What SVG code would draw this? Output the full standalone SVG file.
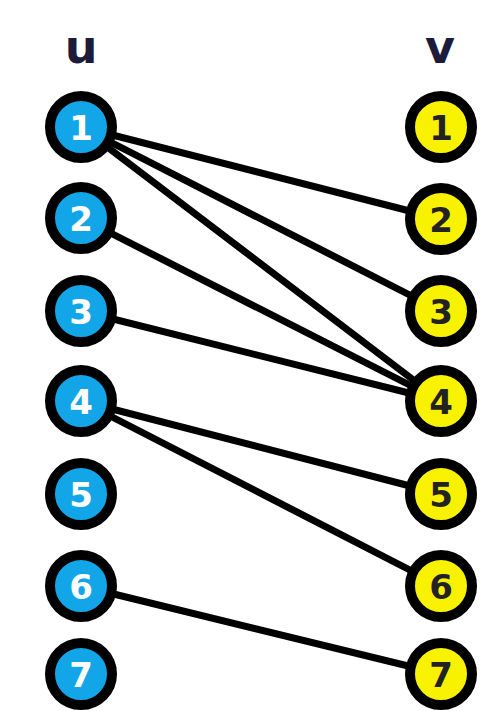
<svg xmlns="http://www.w3.org/2000/svg" width="496" height="718" viewBox="0 0 496 718">
<style>
.edge{stroke:#000;stroke-width:7;stroke-linecap:round}
.u circle{fill:#12a6e8;stroke:#000;stroke-width:10}
.v circle{fill:#f8f200;stroke:#000;stroke-width:10}
.u text{fill:#fff;font-family:"DejaVu Sans",sans-serif;font-weight:bold;font-size:34px;text-anchor:middle}
.v text{fill:#222;font-family:"DejaVu Sans",sans-serif;font-weight:bold;font-size:34px;text-anchor:middle}
.hdr{fill:#1c1c3a;font-family:"DejaVu Sans",sans-serif;font-weight:bold;font-size:46px;text-anchor:middle}
</style>
<rect width="496" height="718" fill="#fff"/>
<text class="hdr" x="81" y="63">u</text>
<text class="hdr" x="440" y="63">v</text>
<g id="connectors">
<line class="edge" x1="81" y1="127" x2="441" y2="219"/>
<line class="edge" x1="81" y1="127" x2="441" y2="311"/>
<line class="edge" x1="81" y1="127" x2="441" y2="401"/>
<line class="edge" x1="81" y1="218" x2="441" y2="401"/>
<line class="edge" x1="81" y1="311" x2="441" y2="401"/>
<line class="edge" x1="81" y1="401" x2="441" y2="494"/>
<line class="edge" x1="81" y1="401" x2="441" y2="586"/>
<line class="edge" x1="81" y1="586" x2="441" y2="674"/>
</g>
<g id="u1" class="u"><circle cx="81" cy="127" r="31"/><text x="81" y="140">1</text></g>
<g id="u2" class="u"><circle cx="81" cy="218" r="31"/><text x="81" y="231">2</text></g>
<g id="u3" class="u"><circle cx="81" cy="311" r="31"/><text x="81" y="324">3</text></g>
<g id="u4" class="u"><circle cx="81" cy="401" r="31"/><text x="81" y="414">4</text></g>
<g id="u5" class="u"><circle cx="81" cy="494" r="31"/><text x="81" y="507">5</text></g>
<g id="u6" class="u"><circle cx="81" cy="586" r="31"/><text x="81" y="599">6</text></g>
<g id="u7" class="u"><circle cx="81" cy="674" r="31"/><text x="81" y="687">7</text></g>
<g id="v1" class="v"><circle cx="441" cy="127" r="31"/><text x="441" y="140">1</text></g>
<g id="v2" class="v"><circle cx="441" cy="219" r="31"/><text x="441" y="232">2</text></g>
<g id="v3" class="v"><circle cx="441" cy="311" r="31"/><text x="441" y="324">3</text></g>
<g id="v4" class="v"><circle cx="441" cy="401" r="31"/><text x="441" y="414">4</text></g>
<g id="v5" class="v"><circle cx="441" cy="494" r="31"/><text x="441" y="507">5</text></g>
<g id="v6" class="v"><circle cx="441" cy="586" r="31"/><text x="441" y="599">6</text></g>
<g id="v7" class="v"><circle cx="441" cy="674" r="31"/><text x="441" y="687">7</text></g>
</svg>
